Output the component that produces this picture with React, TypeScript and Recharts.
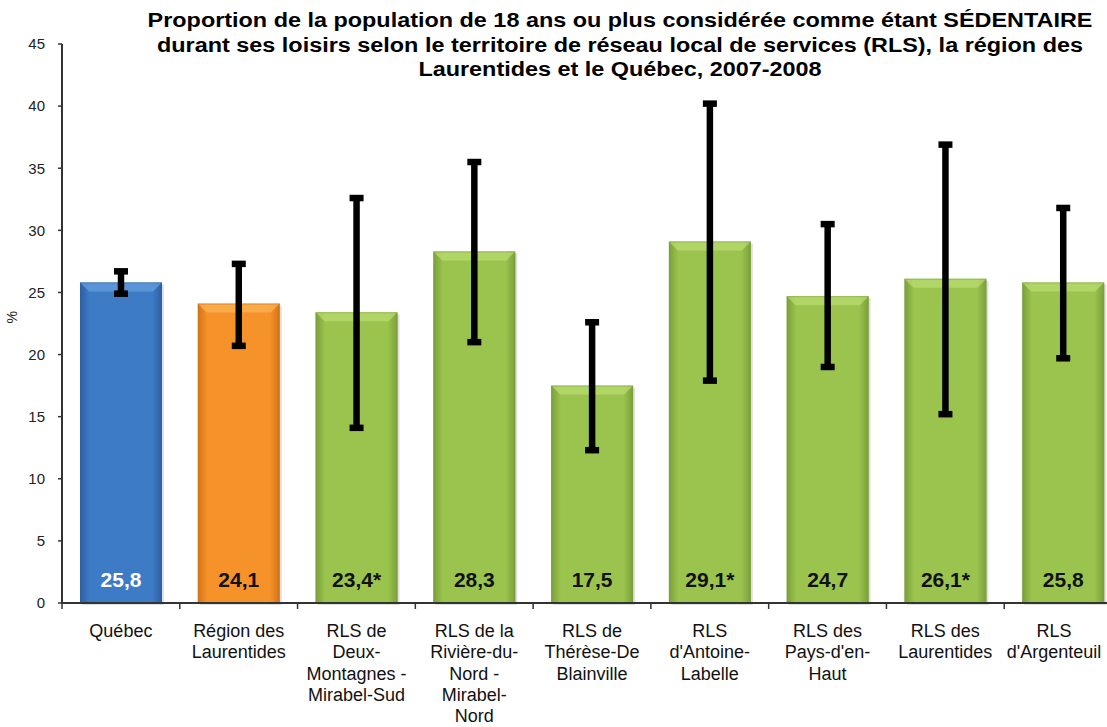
import { Bar, BarChart, Cell, ErrorBar, LabelList, XAxis, YAxis } from "recharts";

const categories = [
  "Québec",
  "Région des Laurentides",
  "RLS de Deux-Montagnes - Mirabel-Sud",
  "RLS de la Rivière-du-Nord - Mirabel-Nord",
  "RLS de Thérèse-De Blainville",
  "RLS d'Antoine-Labelle",
  "RLS des Pays-d'en-Haut",
  "RLS des Laurentides",
  "RLS d'Argenteuil",
];

// wrapped the way the source chart breaks them
const tickLines = [
  ["Québec"],
  ["Région des", "Laurentides"],
  ["RLS de", "Deux-", "Montagnes -", "Mirabel-Sud"],
  ["RLS de la", "Rivière-du-", "Nord -", "Mirabel-", "Nord"],
  ["RLS de", "Thérèse-De", "Blainville"],
  ["RLS", "d'Antoine-", "Labelle"],
  ["RLS des", "Pays-d'en-", "Haut"],
  ["RLS des", "Laurentides"],
  ["RLS", "d'Argenteuil"],
];

const values = [25.8, 24.1, 23.4, 28.3, 17.5, 29.1, 24.7, 26.1, 25.8];
const ciLow = [24.9, 20.7, 14.1, 21.0, 12.3, 17.9, 19.0, 15.2, 19.7];
const ciHigh = [26.7, 27.3, 32.6, 35.5, 22.6, 40.2, 30.5, 36.9, 31.8];
const valueLabels = ["25,8", "24,1", "23,4*", "28,3", "17,5", "29,1*", "24,7", "26,1*", "25,8"];
const yTicks = [0, 5, 10, 15, 20, 25, 30, 35, 40, 45];

const data = categories.map((name, i) => ({
  name,
  value: values[i],
  err: [values[i] - ciLow[i], ciHigh[i] - values[i]],
}));

const FONT = "'Liberation Sans', Arial, sans-serif";
const AXIS = "#333";

const PALETTE = {
  blue: { base: "#3e7bc7", light: "#6a9fe0", dark: "#2c5f9f" },
  orange: { base: "#f6922a", light: "#fcb657", dark: "#d37316" },
  green: { base: "#9bc44e", light: "#bcdd72", dark: "#7a9f3a" },
};
const barColors = [PALETTE.blue, PALETTE.orange, ...Array(7).fill(PALETTE.green)];

const CHART_W = 1130;
const CHART_H = 727;
const MARGIN = { top: 44, right: 8, bottom: 0, left: 0 };
const Y_W = 62;
const BAND = (CHART_W - MARGIN.left - MARGIN.right - Y_W) / categories.length;

function BevelBar(props: any) {
  const { x, y, width, height, index } = props;
  if (!height || height <= 0) return null;
  const c = barColors[index] ?? PALETTE.green;
  const b = 9;
  return (
    <g>
      <rect x={x + 2} y={y + 2} width={width} height={height} fill="#000" opacity={0.12} />
      <rect x={x} y={y} width={width} height={height} fill={`url(#grad${index})`} />
      <polygon
        points={`${x},${y} ${x + width},${y} ${x + width - b},${y + b} ${x + b},${y + b}`}
        fill={c.light}
        opacity={0.7}
      />
      <rect x={x + 0.5} y={y + 0.5} width={width - 1} height={height - 1} fill="none" stroke={c.dark} strokeWidth={1} opacity={0.5} />
    </g>
  );
}

function CategoryTick(props: any) {
  const { x, y, index } = props;
  const lines = tickLines[index] ?? [];
  const last = index === categories.length - 1;
  // the last label is nudged left so it stays inside the picture, as in the source
  const tx = last ? x - 9 : x;
  return (
    <g>
      <line x1={x - BAND / 2} y1={y} x2={x - BAND / 2} y2={y + 6} stroke={AXIS} strokeWidth={1.5} />
      {last && <line x1={x + BAND / 2} y1={y} x2={x + BAND / 2} y2={y + 6} stroke={AXIS} strokeWidth={1.5} />}
      <text x={tx} y={y + 34} textAnchor="middle" fontFamily={FONT} fontSize={18} fill="#111">
        {lines.map((l, i) => (
          <tspan key={i} x={tx} dy={i === 0 ? 0 : 21.3}>
            {l}
          </tspan>
        ))}
      </text>
    </g>
  );
}

function ValueLabel(props: any) {
  const { x, y, width, height, index } = props;
  return (
    <text
      x={x + width / 2}
      y={y + height - 16}
      textAnchor="middle"
      fontFamily={FONT}
      fontWeight="bold"
      fontSize={21}
      fill={index === 0 ? "#fff" : "#111"}
    >
      {valueLabels[index]}
    </text>
  );
}

export default function App() {
  return (
    <div
      style={{
        position: "fixed",
        top: 0,
        left: 0,
        width: 1107,
        height: 727,
        overflow: "hidden",
        background: "#fff",
      }}
    >
      <div
        style={{
          position: "absolute",
          top: 8,
          left: 0,
          width: 1240,
          textAlign: "center",
          fontFamily: FONT,
          fontWeight: "bold",
          fontSize: 20,
          lineHeight: "24.5px",
          whiteSpace: "nowrap",
          color: "#000",
          transform: "scaleX(1.17)",
          transformOrigin: "620px 0",
        }}
      >
        Proportion de la population de 18 ans ou plus considérée comme étant SÉDENTAIRE
        <br />
        durant ses loisirs selon le territoire de réseau local de services (RLS), la région des
        <br />
        Laurentides et le Québec, 2007-2008
      </div>
      <BarChart width={CHART_W} height={CHART_H} data={data} margin={MARGIN} barSize={82}>
        <defs>
          {barColors.map((c, i) => (
            <linearGradient key={i} id={`grad${i}`} x1="0" y1="0" x2="1" y2="0">
              <stop offset="0%" stopColor={c.dark} />
              <stop offset="12%" stopColor={c.base} />
              <stop offset="50%" stopColor={c.base} />
              <stop offset="88%" stopColor={c.base} />
              <stop offset="100%" stopColor={c.dark} />
            </linearGradient>
          ))}
        </defs>
        <XAxis
          dataKey="name"
          interval={0}
          height={CHART_H - 603}
          tick={<CategoryTick />}
          tickLine={false}
          tickSize={0}
          tickMargin={0}
          axisLine={{ stroke: AXIS, strokeWidth: 2 }}
        />
        <YAxis
          width={Y_W}
          domain={[0, 45]}
          ticks={yTicks}
          interval={0}
          tickSize={4}
          tickMargin={13}
          tick={{ fontFamily: FONT, fontSize: 15, fill: "#222" }}
          tickLine={{ stroke: AXIS, strokeWidth: 1.5 }}
          axisLine={{ stroke: AXIS, strokeWidth: 2 }}
          label={{ value: "%", angle: -90, position: "insideLeft", offset: 12, fontSize: 14, fontFamily: FONT, fill: "#222" }}
        />
        <Bar dataKey="value" shape={<BevelBar />} isAnimationActive={false}>
          {data.map((_, i) => (
            <Cell key={i} fill={barColors[i].base} />
          ))}
          <LabelList dataKey="value" content={<ValueLabel />} />
          <ErrorBar dataKey="err" direction="y" width={7} strokeWidth={6.5} stroke="#000" isAnimationActive={false} />
        </Bar>
      </BarChart>
    </div>
  );
}
